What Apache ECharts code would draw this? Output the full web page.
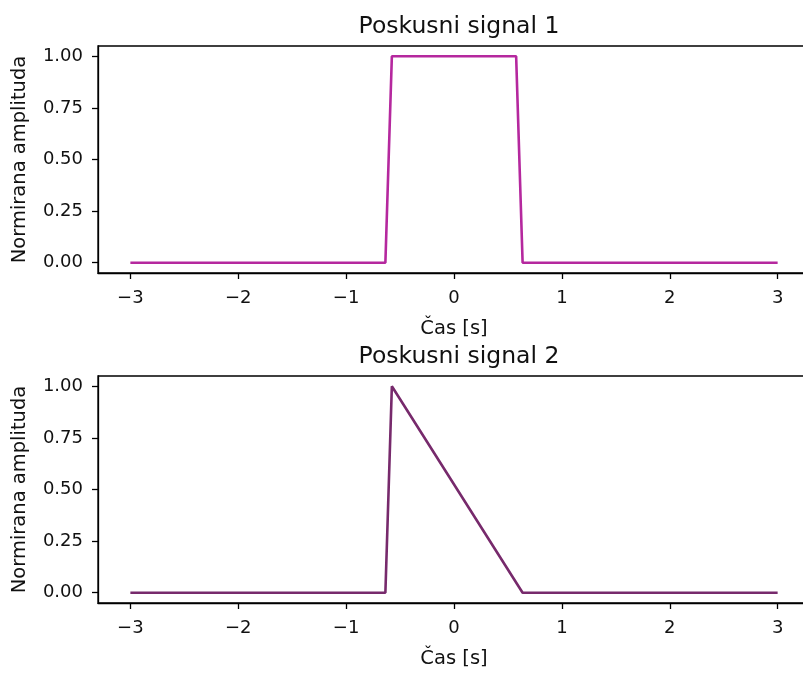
<!DOCTYPE html>
<html>
<head>
<meta charset="utf-8">
<script src="https://cdn.jsdelivr.net/npm/echarts@6/dist/echarts.min.js"></script>
<style>
  html, body { margin: 0; padding: 0; background: #fff; overflow: hidden; }
  #chart { width: 812px; height: 673px; }
</style>
</head>
<body>
<div id="chart"></div>
<script>
// Sample times (s) and normalised amplitudes of the two test signals
const time1 = [-3, -0.636, -0.576, 0.576, 0.636, 3];
const amp1 = [0, 0, 1, 1, 0, 0];
const time2 = [-3, -0.636, -0.576, 0.636, 3];
const amp2 = [0, 0, 1, 0, 0];

const titles = ['Poskusni signal 1', 'Poskusni signal 2'];
const xTicks = [-3, -2, -1, 0, 1, 2, 3];
const yTicks = [0, 0.25, 0.5, 0.75, 1];
const xLabel = 'Čas [s]';
const yLabel = 'Normirana amplituda';

const colors = ['#b5289e', '#772a6c'];
const FONT = '"DejaVu Sans", sans-serif';
const TXT = '#111';

const grids = [
  { left: 98, top: 46, right: 2, height: 227 },
  { left: 98, top: 376, right: 2, height: 227 }
];

function pairs(xs, ys) { return xs.map((x, i) => [x, ys[i]]); }

const xAxes = grids.map((g, i) => ({
  type: 'value', gridIndex: i, min: -3.3, max: 3.3,
  name: xLabel, nameLocation: 'middle', nameGap: 46,
  nameTextStyle: { fontFamily: FONT, fontSize: 19.5, color: TXT },
  axisLine: { show: true, onZero: false, lineStyle: { color: '#000', width: 1.3 } },
  axisTick: { show: true, length: 6, customValues: xTicks, lineStyle: { color: '#000', width: 1.3 } },
  axisLabel: {
    customValues: xTicks, margin: 16, fontFamily: FONT, fontSize: 18, color: TXT,
    formatter: v => (v < 0 ? '\u2212' + Math.abs(v) : String(v))
  },
  splitLine: { show: false }
}));

const yAxes = grids.map((g, i) => ({
  type: 'value', gridIndex: i, min: -0.05, max: 1.05,
  name: yLabel, nameLocation: 'middle', nameGap: 68, nameRotate: 90,
  nameTextStyle: { fontFamily: FONT, fontSize: 19.5, color: TXT },
  axisLine: { show: true, onZero: false, lineStyle: { color: '#000', width: 1.3 } },
  axisTick: { show: true, length: 6, customValues: yTicks, lineStyle: { color: '#000', width: 1.3 } },
  axisLabel: {
    customValues: yTicks, margin: 15, fontFamily: FONT, fontSize: 18, color: TXT,
    formatter: v => v.toFixed(2)
  },
  splitLine: { show: false }
}));

const chart = echarts.init(document.getElementById('chart'), null, { renderer: 'canvas' });
chart.setOption({
  animation: false,
  backgroundColor: '#fff',
  title: titles.map((t, i) => ({
    text: t, left: 454, textAlign: 'center', top: i === 0 ? 10 : 340,
    textStyle: { fontFamily: FONT, fontSize: 23.5, fontWeight: 'normal', color: TXT }
  })),
  grid: grids.map(g => Object.assign({ show: true, borderColor: '#000', borderWidth: 1.3, backgroundColor: '#fff' }, g)),
  xAxis: xAxes,
  yAxis: yAxes,
  series: [
    { type: 'line', xAxisIndex: 0, yAxisIndex: 0, data: pairs(time1, amp1), showSymbol: false,
      lineStyle: { color: colors[0], width: 2.6 }, itemStyle: { color: colors[0] } },
    { type: 'line', xAxisIndex: 1, yAxisIndex: 1, data: pairs(time2, amp2), showSymbol: false,
      lineStyle: { color: colors[1], width: 2.6 }, itemStyle: { color: colors[1] } }
  ]
});
</script>
</body>
</html>
